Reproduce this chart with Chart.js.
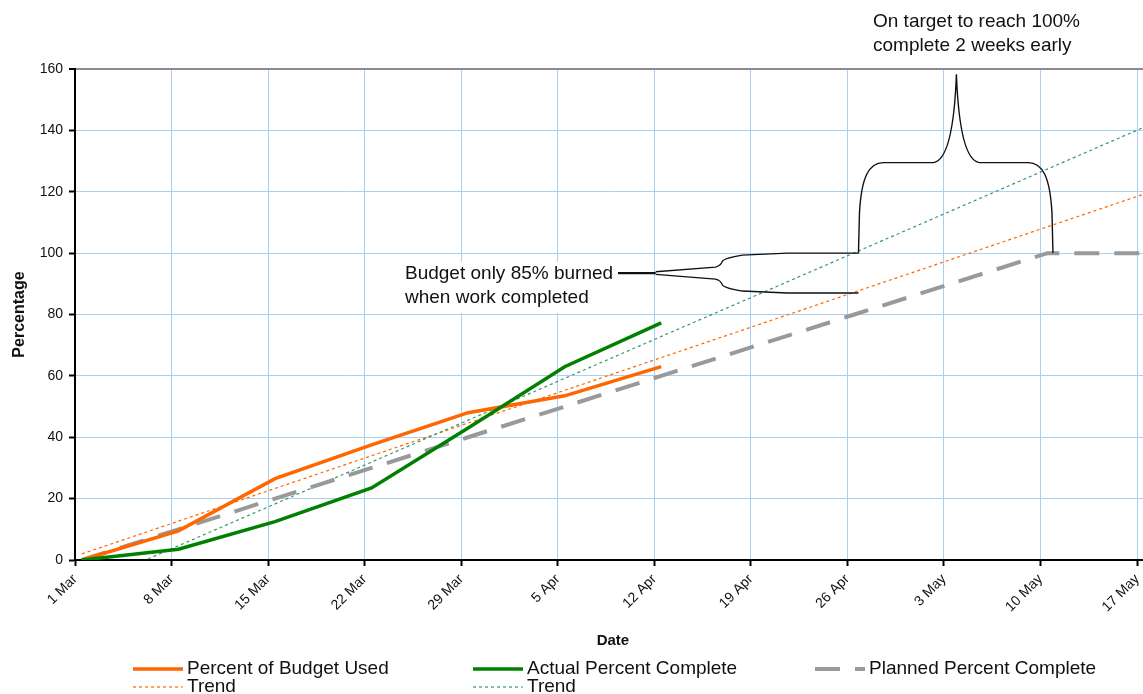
<!DOCTYPE html>
<html>
<head>
<meta charset="utf-8">
<title>Budget vs Percent Complete</title>
<script src="https://cdn.jsdelivr.net/npm/chart.js@4.4.1/dist/chart.umd.min.js"></script>
<style>
    html, body { margin: 0; padding: 0; background: #fff; overflow: hidden; }
    #wrap { width: 1154px; height: 694px; position: relative; }
</style>
</head>
<body>
<div id="wrap"><canvas id="grafico"></canvas></div>
<script>
// days counted from 1 Mar
const tickDays = [0, 7, 14, 21, 28, 35, 42, 49, 56, 63, 70, 77]
const tickLabels = ['1 Mar', '8 Mar', '15 Mar', '22 Mar', '29 Mar', '5 Apr', '12 Apr', '19 Apr', '26 Apr', '3 May', '10 May', '17 May']

const actualDays = [0, 7, 14, 21, 28, 35, 42]
const budgetUsed = [0, 9.5, 26.5, 37.5, 48, 53.5, 63]
const actualComplete = [0, 3.5, 12.5, 23.5, 43, 63, 77.3]

const plannedDays = [0, 7, 14, 21, 28, 35, 42, 49, 56, 63, 70, 77]
const plannedComplete = [0, 10, 20, 30, 40, 50, 60, 70, 80, 90, 100, 100]

// trend lines, start and end
const trendDays = [0, 77.5]
const budgetTrend = [2, 120]
const actualTrend = [-9, 142]

const yTicks = { min: 0, max: 160, step: 20 }

// excel puts each point in the middle of its day
const meioDia = 0.5

function pontos(dias, valores) {
    return dias.map((d, i) => ({ x: d + meioDia, y: valores[i] }))
}

const gridBlue = '#A9CFF5'
const textColor = '#111'
const fontFamily = '"Liberation Sans", Arial, sans-serif'

Chart.defaults.font.family = fontFamily
Chart.defaults.color = '#000'

// legend laid out like the excel one: 3 columns, trend under its series
const legendaPlugin = {
    id: 'legenda',
    afterDraw(chart) {
        const ctx = chart.ctx
        const cells = [
            { ds: 0, x: 133, y: 669 },
            { ds: 1, x: 133, y: 687 },
            { ds: 2, x: 473, y: 669 },
            { ds: 3, x: 473, y: 687 },
            { ds: 4, x: 815, y: 669 }
        ]
        ctx.save()
        ctx.font = '19px ' + fontFamily
        ctx.textBaseline = 'middle'
        cells.forEach(c => {
            const ds = chart.data.datasets[c.ds]
            ctx.strokeStyle = ds.borderColor
            ctx.lineWidth = ds.borderWidth
            ctx.setLineDash(ds.borderDash || [])
            ctx.beginPath()
            ctx.moveTo(c.x, c.y)
            ctx.lineTo(c.x + 50, c.y)
            ctx.stroke()
            ctx.fillStyle = textColor
            ctx.fillText(ds.label, c.x + 54, c.y)
        })
        ctx.restore()
    }
}

// the two callouts, anchored on data coordinates
const budgetNote = {
    lines: ['Budget only 85% burned', 'when work completed'],
    tipDay: 42.1, splitDay: 46.8, endDay: 56.8,
    mid: 93.5, top: 100, bottom: 87
}
const targetNote = {
    lines: ['On target to reach 100%', 'complete 2 weeks early'],
    startDay: 56.8, endDay: 70.9, tipDay: 63.9,
    base: 100, shoulder: 129.5, tip: 158.3
}

const notasPlugin = {
    id: 'notas',
    afterDraw(chart) {
        const ctx = chart.ctx
        const xs = chart.scales.x
        const ys = chart.scales.y
        const px = d => xs.getPixelForValue(d)
        const py = v => ys.getPixelForValue(v)

        ctx.save()
        ctx.font = '19px ' + fontFamily
        ctx.textBaseline = 'middle'

        // budget text box
        const boxRight = 618
        ctx.fillStyle = '#fff'
        ctx.fillRect(400, 262, boxRight - 400, 51)
        ctx.fillStyle = textColor
        ctx.fillText(budgetNote.lines[0], 405, 274)
        ctx.fillText(budgetNote.lines[1], 405, 298)

        const xa = px(budgetNote.tipDay)
        const xsp = px(budgetNote.splitDay)
        const xe = px(budgetNote.endDay)
        const ym = py(budgetNote.mid)
        const yt = py(budgetNote.top)
        const yb = py(budgetNote.bottom)

        ctx.strokeStyle = '#111'
        ctx.lineWidth = 2.2
        ctx.beginPath()
        ctx.moveTo(boxRight, ym)
        ctx.lineTo(xa, ym)
        ctx.stroke()

        ctx.lineWidth = 1.3
        ctx.beginPath()
        ctx.moveTo(xa, ym - 1.3)
        ctx.lineTo(xsp - 5, ym - 6)
        ctx.quadraticCurveTo(xsp, ym - 7, xsp + 2, ym - 12)
        ctx.quadraticCurveTo(xsp + 4, yt + 5, xsp + 22, yt + 2)
        ctx.lineTo(xsp + 67, yt)
        ctx.lineTo(xe, yt)
        ctx.moveTo(xa, ym + 1.3)
        ctx.lineTo(xsp - 5, ym + 6)
        ctx.quadraticCurveTo(xsp, ym + 7, xsp + 2, ym + 12)
        ctx.quadraticCurveTo(xsp + 4, yb - 5, xsp + 22, yb - 2)
        ctx.lineTo(xsp + 67, yb)
        ctx.lineTo(xe, yb)
        ctx.stroke()

        // big brace pointing up
        const x1 = px(targetNote.startDay)
        const x2 = px(targetNote.endDay)
        const xt = px(targetNote.tipDay)
        const yB = py(targetNote.base)
        const yS = py(targetNote.shoulder)
        const yT = py(targetNote.tip)
        ctx.lineWidth = 1.4
        ctx.beginPath()
        ctx.moveTo(x1, yB)
        ctx.lineTo(x1 + 1, yS + 50)
        ctx.bezierCurveTo(x1 + 3, yS + 15, x1 + 10, yS, x1 + 25, yS)
        ctx.lineTo(xt - 23, yS)
        ctx.bezierCurveTo(xt - 9, yS - 2, xt - 2, yS - 35, xt, yT)
        ctx.bezierCurveTo(xt + 2, yS - 35, xt + 9, yS - 2, xt + 23, yS)
        ctx.lineTo(x2 - 25, yS)
        ctx.bezierCurveTo(x2 - 10, yS, x2 - 3, yS + 15, x2 - 1, yS + 50)
        ctx.lineTo(x2, yB)
        ctx.stroke()

        ctx.fillStyle = textColor
        ctx.fillText(targetNote.lines[0], 873, 22)
        ctx.fillText(targetNote.lines[1], 873, 46)
        ctx.restore()
    }
}

const linha = {
    pointRadius: 0,
    pointHoverRadius: 0,
    tension: 0,
    fill: false
}

const grafico = new Chart(document.getElementById('grafico').getContext('2d'), {
    type: 'line',
    data: {
        datasets: [
            { ...linha, label: 'Percent of Budget Used', data: pontos(actualDays, budgetUsed), borderColor: '#FF6600', borderWidth: 3.5, order: 2 },
            { ...linha, label: 'Trend', data: pontos(trendDays, budgetTrend), borderColor: '#FF6600', borderWidth: 1.2, borderDash: [3, 3], order: 5 },
            { ...linha, label: 'Actual Percent Complete', data: pontos(actualDays, actualComplete), borderColor: '#008000', borderWidth: 3.5, order: 1 },
            { ...linha, label: 'Trend', data: pontos(trendDays, actualTrend), borderColor: '#339966', borderWidth: 1.2, borderDash: [3, 3], order: 4 },
            { ...linha, label: 'Planned Percent Complete', data: pontos(plannedDays, plannedComplete), borderColor: '#999999', borderWidth: 4, borderDash: [25, 15], order: 3 }
        ]
    },
    options: {
        responsive: true,
        maintainAspectRatio: false,
        animation: false,
        layout: {
            padding: { top: 69, left: 0, right: 1, bottom: 0 }
        },
        scales: {
            x: {
                type: 'linear',
                min: 0,
                max: 78,
                afterBuildTicks: axis => {
                    axis.ticks = tickDays.map(v => ({ value: v }))
                },
                afterFit: scale => {
                    scale.height = 134
                },
                ticks: {
                    autoSkip: false,
                    maxRotation: 45,
                    minRotation: 45,
                    padding: 5,
                    color: textColor,
                    font: { size: 14 },
                    callback: (v, i) => tickLabels[i]
                },
                grid: {
                    color: c => (c.tick && c.tick.value === 0) ? 'rgba(0,0,0,0)' : gridBlue,
                    lineWidth: 1,
                    tickColor: '#000',
                    tickLength: 6,
                    tickWidth: 2
                },
                border: { color: '#000', width: 2 },
                title: {
                    display: true,
                    text: 'Date',
                    color: textColor,
                    font: { size: 15, weight: 'bold' },
                    padding: { top: 0, bottom: 44 }
                }
            },
            y: {
                min: yTicks.min,
                max: yTicks.max,
                afterFit: scale => {
                    scale.width = 75
                },
                ticks: {
                    stepSize: yTicks.step,
                    padding: 6,
                    color: textColor,
                    font: { size: 14 }
                },
                grid: {
                    color: c => (c.tick && c.tick.value === yTicks.max) ? '#8C8C8C' : gridBlue,
                    lineWidth: c => (c.tick && c.tick.value === yTicks.max) ? 2 : 1,
                    tickColor: '#000',
                    tickLength: 6,
                    tickWidth: 2
                },
                border: { color: '#000', width: 2 },
                title: {
                    display: true,
                    text: 'Percentage',
                    color: textColor,
                    font: { size: 16, weight: 'bold' },
                    padding: { top: 10, bottom: 0 }
                }
            }
        },
        plugins: {
            legend: { display: false },
            tooltip: { enabled: false }
        }
    },
    plugins: [legendaPlugin, notasPlugin]
})
</script>
</body>
</html>
